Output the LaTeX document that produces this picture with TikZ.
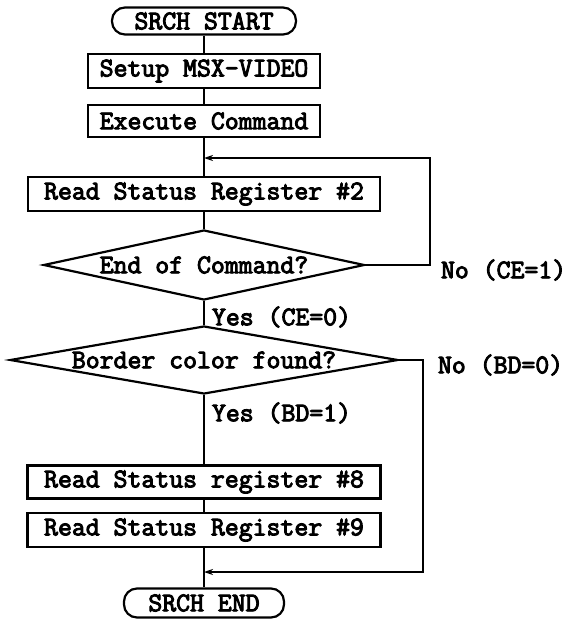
\documentclass[tikz,border=0pt]{standalone}
\usepackage{fontspec}
\newfontfamily\twfont{Latin Modern Mono}[FakeBold=3.6]
\usetikzlibrary{shapes.geometric,arrows.meta}
\begin{document}
\begin{tikzpicture}[x=1pt,y=-1pt,
  line width=2pt,
  every node/.style={font=\fontsize{27}{30}\selectfont\twfont},
  proc/.style={draw, rectangle, line width=2.4pt, minimum height=33pt, inner sep=0pt},
  term/.style={draw, line width=2.2pt, rounded corners=13pt, minimum height=27pt, inner sep=0pt},
  dia/.style={draw, diamond, line width=2.2pt, inner sep=0pt},
  lbl/.style={anchor=west, inner sep=0pt},
  arr/.style={-{Stealth[length=9pt,width=6pt]}}]
\useasboundingbox (0,0) rectangle (570,621);
\node[term, minimum width=184pt] (start) at (204,21) {SRCH START};
\node[proc, minimum width=232pt, minimum height=34pt] (setup) at (204,71) {Setup MSX-VIDEO};
\node[proc, minimum width=232pt, minimum height=32pt] (exec) at (204,121) {Execute Command};
\node[proc, minimum width=352pt, minimum height=34pt] (rs2) at (204,194) {Read Status Register \#2};
\node[dia, minimum width=321pt, minimum height=70pt] (d1) at (204,265) {};
\node at (d1) {End of Command?};
\node[dia, minimum width=388pt, minimum height=68pt] (d2) at (204,360) {};
\node at (d2) {Border color found?};
\node[proc, minimum width=353pt, minimum height=33pt] (rs8) at (204,482) {Read Status register \#8};
\node[proc, minimum width=353pt, minimum height=34pt] (rs9) at (204,530) {Read Status Register \#9};
\node[term, minimum width=160pt, minimum height=29pt] (end) at (204,603) {SRCH END};
\node[lbl] (no1) at (440,270) {No (CE=1)};
\node[lbl] (yes1) at (211,317) {Yes (CE=0)};
\node[lbl] (no2) at (437,365) {No (BD=0)};
\node[lbl] (yes2) at (211,413) {Yes (BD=1)};
\coordinate (j1) at (204,158);
\coordinate (r1) at (430,158);
\coordinate (j2) at (204,572);
\coordinate (r2) at (423,572);
\draw (start) -- (setup);
\draw (setup) -- (exec);
\draw (exec) -- (rs2);
\draw (rs2) -- (d1);
\draw (d1.south) -- (d2.north);
\draw (d2.south) -- (rs8);
\draw (rs8) -- (rs9);
\draw (rs9) -- (end);
\draw[arr] (d1.east) -| (r1) -- (j1);
\draw[arr] (d2.east) -| (r2) -- (j2);
\end{tikzpicture}
\end{document}
